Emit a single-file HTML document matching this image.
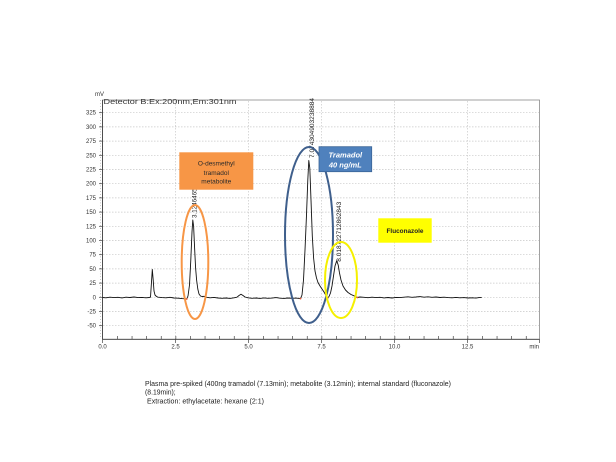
<!DOCTYPE html>
<html>
<head>
<meta charset="utf-8">
<style>
html,body{margin:0;padding:0;background:#fff;}
svg{display:block;}
text{font-family:"Liberation Sans",sans-serif;}
</style>
</head>
<body>
<svg width="616" height="462" viewBox="0 0 616 462" xmlns="http://www.w3.org/2000/svg">
<rect width="616" height="462" fill="#fff"/>

<!-- grid horizontal -->
<g stroke="#c8c8c8" stroke-width="0.7" stroke-dasharray="1.5,1.5">
<line x1="103" y1="112.7" x2="539" y2="112.7"/>
<line x1="103" y1="126.9" x2="539" y2="126.9"/>
<line x1="103" y1="141.1" x2="539" y2="141.1"/>
<line x1="103" y1="155.3" x2="539" y2="155.3"/>
<line x1="103" y1="169.5" x2="539" y2="169.5"/>
<line x1="103" y1="183.7" x2="539" y2="183.7"/>
<line x1="103" y1="197.9" x2="539" y2="197.9"/>
<line x1="103" y1="212.1" x2="539" y2="212.1"/>
<line x1="103" y1="226.3" x2="539" y2="226.3"/>
<line x1="103" y1="240.5" x2="539" y2="240.5"/>
<line x1="103" y1="254.7" x2="539" y2="254.7"/>
<line x1="103" y1="268.9" x2="539" y2="268.9"/>
<line x1="103" y1="283.1" x2="539" y2="283.1"/>
<line x1="103" y1="297.3" x2="539" y2="297.3"/>
<line x1="103" y1="311.5" x2="539" y2="311.5"/>
<line x1="103" y1="325.7" x2="539" y2="325.7"/>
<!-- vertical -->
<line x1="175.5" y1="101" x2="175.5" y2="339"/>
<line x1="248.5" y1="101" x2="248.5" y2="339"/>
<line x1="321.5" y1="101" x2="321.5" y2="339"/>
<line x1="394.5" y1="101" x2="394.5" y2="339"/>
<line x1="467.5" y1="101" x2="467.5" y2="339"/>
</g>

<!-- frame -->
<rect x="102.5" y="100" width="437" height="239.3" fill="none" stroke="#8a8a8a" stroke-width="0.8"/>
<line x1="102.5" y1="100" x2="102.5" y2="339.3" stroke="#444" stroke-width="0.9"/>
<line x1="102.5" y1="339.3" x2="539.5" y2="339.3" stroke="#444" stroke-width="0.9"/>

<!-- y ticks -->
<g stroke="#444" stroke-width="0.7">
<line x1="99" y1="112.7" x2="102.5" y2="112.7"/>
<line x1="99" y1="126.9" x2="102.5" y2="126.9"/>
<line x1="99" y1="141.1" x2="102.5" y2="141.1"/>
<line x1="99" y1="155.3" x2="102.5" y2="155.3"/>
<line x1="99" y1="169.5" x2="102.5" y2="169.5"/>
<line x1="99" y1="183.7" x2="102.5" y2="183.7"/>
<line x1="99" y1="197.9" x2="102.5" y2="197.9"/>
<line x1="99" y1="212.1" x2="102.5" y2="212.1"/>
<line x1="99" y1="226.3" x2="102.5" y2="226.3"/>
<line x1="99" y1="240.5" x2="102.5" y2="240.5"/>
<line x1="99" y1="254.7" x2="102.5" y2="254.7"/>
<line x1="99" y1="268.9" x2="102.5" y2="268.9"/>
<line x1="99" y1="283.1" x2="102.5" y2="283.1"/>
<line x1="99" y1="297.3" x2="102.5" y2="297.3"/>
<line x1="99" y1="311.5" x2="102.5" y2="311.5"/>
<line x1="99" y1="325.7" x2="102.5" y2="325.7"/>
</g>
<g stroke="#444" stroke-width="0.5" stroke-dasharray="0.6,2.24" >
<line x1="100.5" y1="100.4" x2="100.5" y2="339"/>
</g>

<!-- x ticks -->
<g stroke="#444" stroke-width="0.7">
<line x1="102.5" y1="339.3" x2="102.5" y2="343"/>
<line x1="175.5" y1="339.3" x2="175.5" y2="343"/>
<line x1="248.5" y1="339.3" x2="248.5" y2="343"/>
<line x1="321.5" y1="339.3" x2="321.5" y2="343"/>
<line x1="394.5" y1="339.3" x2="394.5" y2="343"/>
<line x1="467.5" y1="339.3" x2="467.5" y2="343"/>
<line x1="539.5" y1="339.3" x2="539.5" y2="343"/>
</g>
<g stroke="#444" stroke-width="0.6" stroke-dasharray="0.7,13.9">
<line x1="117.1" y1="337.5" x2="539" y2="337.5" stroke-width="3"/>
</g>

<!-- y labels -->
<g font-size="6" fill="#333" text-anchor="end">
<text x="96" y="114.7">325</text>
<text x="96" y="128.9">300</text>
<text x="96" y="143.1">275</text>
<text x="96" y="157.3">250</text>
<text x="96" y="171.5">225</text>
<text x="96" y="185.7">200</text>
<text x="96" y="199.9">175</text>
<text x="96" y="214.1">150</text>
<text x="96" y="228.3">125</text>
<text x="96" y="242.5">100</text>
<text x="96" y="256.7">75</text>
<text x="96" y="270.9">50</text>
<text x="96" y="285.1">25</text>
<text x="96" y="299.3">0</text>
<text x="96" y="313.5">-25</text>
<text x="96" y="327.7">-50</text>
</g>
<!-- x labels -->
<g font-size="6" fill="#333" text-anchor="middle">
<text x="102.5" y="348.5">0.0</text>
<text x="175.5" y="348.5">2.5</text>
<text x="248.5" y="348.5">5.0</text>
<text x="321.5" y="348.5">7.5</text>
<text x="394.5" y="348.5">10.0</text>
<text x="467.5" y="348.5">12.5</text>
</g>
<text x="539" y="348.5" font-size="6" fill="#333" text-anchor="end">min</text>

<text x="95" y="96" font-size="6" fill="#333">mV</text>
<text x="103.5" y="104" font-size="7.5" fill="#333" textLength="133" lengthAdjust="spacingAndGlyphs">Detector B:Ex:200nm,Em:301nm</text>

<!-- trace -->
<path fill="none" stroke="#111" stroke-width="0.9" stroke-linejoin="round" d="M102.5,297.5 L106,297.8 L110,297.2 L114,297.6 L118,297.3 L122,297.9 L126,297.2 L130,297.5 L134,297.0 L138,297.6 L142,297.4 L146,297.8 L149,297.5 L150.5,297.2 L151.3,285 L152.3,269.5 L153.2,280 L154,291 L155,295 L156.5,296.5 L158,297.2 L162,297.6 L166,297.8 L170,297.3 L174,298 L178,298.2 L182,298.6 L185,298.8 L186.7,299 L188,296 L189.5,285 L190.8,260 L192,232 L192.8,220 L193.6,226 L194.6,248 L195.6,268 L196.6,280 L197.8,289 L199,294 L200.5,296 L202,296.5 L204,296.3 L206,297.2 L210,297.8 L214,297.4 L218,298 L222,298.3 L226,298 L230,298.4 L234,297.8 L237,297.2 L239,295.5 L241,294.2 L243,295.5 L245,297 L248,297.8 L252,298.3 L256,298 L260,298.4 L264,297.9 L268,298.3 L272,298.1 L276,297.6 L280,298.2 L284,298.4 L288,298 L292,298.3 L296,298.1 L299,298.4 L300.5,298.6 L302,295 L303.5,280 L305,250 L306.5,215 L307.8,180 L308.8,160.5 L309.8,168 L311,200 L312.3,236 L313.6,258 L315,271 L316.5,278 L318,282.5 L320,286 L322,289 L324,292 L326,295.5 L327.7,298 L329,296.5 L330.5,293 L332,286 L333.5,276 L335,266 L336.7,260.8 L338.2,265 L339.5,273 L341,280 L343,286 L345.5,290 L348,292.5 L351,294.5 L354,295.8 L357.3,297.5 L360,297 L364,297.3 L368,297.7 L372,297.2 L376,297.6 L380,297.3 L384,297.9 L388,297.5 L392,298 L396,297.4 L400,297.6 L404,297.2 L408,296.8 L412,297.3 L416,297.0 L420,296.6 L424,297.2 L428,296.8 L432,297.3 L436,297.0 L440,297.5 L444,297.2 L448,297.6 L452,297.8 L456,297.4 L460,297.8 L464,297.6 L468,298 L472,297.8 L476,298.1 L479,297.6 L481.7,297.4"/>

<!-- peak markers -->
<g fill="#e05030">
<circle cx="186.7" cy="299" r="0.9"/>
<circle cx="300.5" cy="298.6" r="0.9"/>
<circle cx="327.7" cy="298" r="0.9"/>
<circle cx="357.3" cy="297.5" r="0.9"/>
</g>

<!-- rotated peak labels -->
<g font-size="6" fill="#222">
<text transform="translate(196.5,218) rotate(-90)" textLength="40" lengthAdjust="spacingAndGlyphs">3.1246465768</text>
<text transform="translate(314,158) rotate(-90)" textLength="60" lengthAdjust="spacingAndGlyphs">7.074304903238884</text>
<text transform="translate(341,261.7) rotate(-90)" textLength="60" lengthAdjust="spacingAndGlyphs">8.018722712862843</text>
</g>

<!-- ellipses -->
<ellipse cx="195" cy="262" rx="13.3" ry="57" fill="none" stroke="#F79646" stroke-width="2"/>
<ellipse cx="309" cy="235" rx="24" ry="88" fill="none" stroke="#3F5F8C" stroke-width="2"/>
<ellipse cx="341" cy="280" rx="16" ry="38" fill="none" stroke="#F5F000" stroke-width="2"/>

<!-- orange box -->
<rect x="179.3" y="152.3" width="74" height="37.4" fill="#F79646"/>
<g font-size="6.5" fill="#2a2a2a" text-anchor="middle">
<text x="216.3" y="165.5">O-desmethyl</text>
<text x="216.3" y="175">tramadol</text>
<text x="216.3" y="183.7">metabolite</text>
</g>

<!-- blue box -->
<rect x="319" y="146.7" width="52.7" height="25" fill="#4F81BD" stroke="#3B6496" stroke-width="0.8"/>
<g font-size="7.5" fill="#fff" text-anchor="middle" font-weight="bold" font-style="italic" style="font-family:'Liberation Serif',serif">
<text x="345.3" y="157.5">Tramadol</text>
<text x="345.3" y="167.5">40 ng/mL</text>
</g>

<!-- yellow box -->
<rect x="378.3" y="218.3" width="53.4" height="24.4" fill="#FFFF00"/>
<text x="405" y="233" font-size="6.5" font-weight="bold" fill="#222" text-anchor="middle" textLength="37" lengthAdjust="spacingAndGlyphs">Fluconazole</text>

<!-- caption -->
<g font-size="7.5" fill="#222">
<text x="145" y="386" textLength="306" lengthAdjust="spacingAndGlyphs">Plasma pre-spiked (400ng tramadol (7.13min); metabolite (3.12min); internal standard (fluconazole)</text>
<text x="145" y="394.5" textLength="30.7" lengthAdjust="spacingAndGlyphs">(8.19min);</text>
<text x="147" y="403.5" textLength="117" lengthAdjust="spacingAndGlyphs">Extraction: ethylacetate: hexane (2:1)</text>
</g>
</svg>
</body>
</html>
